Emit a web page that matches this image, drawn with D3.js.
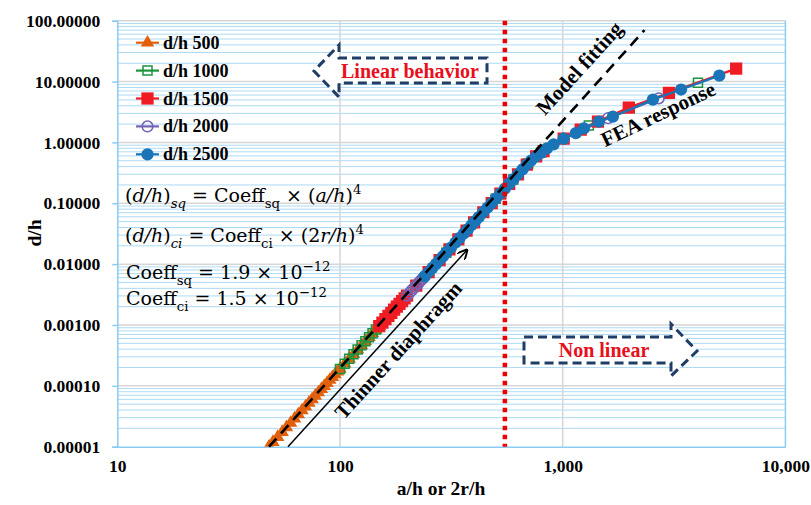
<!DOCTYPE html>
<html>
<head>
<meta charset="utf-8">
<script src="https://cdn.jsdelivr.net/npm/d3@7"></script>
<style>
  body { margin: 0; background: #fff; }
  text { font-family: "Liberation Serif", "Times New Roman", serif; }
</style>
</head>
<body>
<script>
// ---- data ----
const ahOrange = [48, 50, 52.5, 55, 57.5, 60, 62.5, 65, 67.5, 70, 72.5, 75, 77.5, 80, 82.5, 85, 87.5, 90, 92.5, 95, 97.5, 100, 105, 110, 115, 120, 125, 130, 135, 140, 145, 150];
const dhOrange = [1.01e-5, 1.19e-5, 1.44e-5, 1.74e-5, 2.08e-5, 2.46e-5, 2.90e-5, 3.39e-5, 3.94e-5, 4.56e-5, 5.25e-5, 6.01e-5, 6.85e-5, 7.78e-5, 8.80e-5, 9.92e-5, 1.11e-4, 1.25e-4, 1.39e-4, 1.55e-4, 1.72e-4, 1.90e-4, 2.31e-4, 2.78e-4, 3.32e-4, 3.94e-4, 4.64e-4, 5.43e-4, 6.31e-4, 7.30e-4, 8.40e-4, 9.62e-4];

const ahGreen = [100, 105, 110, 115, 120, 125, 130, 135, 140, 145, 150, 175, 200, 250, 300, 400, 500, 600, 700, 800, 1010, 1310, 2000, 4050];
const dhGreen = [1.90e-4, 2.31e-4, 2.78e-4, 3.32e-4, 3.94e-4, 4.64e-4, 5.43e-4, 6.31e-4, 7.30e-4, 8.40e-4, 9.62e-4, 1.78e-3, 3.04e-3, 7.42e-3, 1.54e-2, 4.86e-2, 0.119, 0.246, 0.45, 0.68, 1.15, 1.9, 3.7, 9.6];

const ahRed = [150, 155, 160, 165, 170, 175, 180, 185, 190, 195, 200, 220, 250, 280, 310, 340, 370, 400, 440, 480, 525, 575, 630, 690, 760, 820, 1010, 1205, 1440, 1980, 3000, 6010];
const dhRed = [9.62e-4, 1.097e-3, 1.245e-3, 1.408e-3, 1.587e-3, 1.782e-3, 1.995e-3, 2.226e-3, 2.476e-3, 2.747e-3, 3.04e-3, 4.45e-3, 7.42e-3, 1.168e-2, 1.755e-2, 2.54e-2, 3.56e-2, 4.86e-2, 7.12e-2, 0.1009, 0.1443, 0.2077, 0.2993, 0.4307, 0.59, 0.72, 1.15, 1.62, 2.2, 3.73, 6.5, 16.3];

const ahPurple = [200, 205, 210, 215, 220, 225, 230, 235, 240, 300, 400, 500, 600, 800, 1010, 1600, 2700];
const dhPurple = [3.04e-3, 3.36e-3, 3.70e-3, 4.06e-3, 4.45e-3, 4.87e-3, 5.32e-3, 5.79e-3, 6.30e-3, 1.54e-2, 4.86e-2, 0.119, 0.246, 0.68, 1.15, 2.5, 5.3];

const ahBlue = [240, 250, 260, 270, 280, 290, 300, 315, 330, 345, 360, 375, 390, 405, 420, 440, 460, 480, 500, 525, 550, 575, 600, 630, 660, 690, 720, 760, 800, 850, 910, 1010, 1145, 1245, 1453, 1680, 2540, 3400, 5050];
const dhBlue = [6.30e-3, 7.42e-3, 8.68e-3, 1.010e-2, 1.168e-2, 1.344e-2, 1.539e-2, 1.871e-2, 2.253e-2, 2.692e-2, 3.191e-2, 3.757e-2, 4.395e-2, 5.112e-2, 5.91e-2, 7.12e-2, 8.51e-2, 0.1009, 0.1188, 0.1443, 0.1739, 0.2077, 0.2462, 0.2993, 0.3605, 0.4307, 0.50, 0.59, 0.68, 0.80, 0.93, 1.15, 1.42, 1.7, 2.2, 2.65, 5.05, 7.4, 12.5];

const seriesNames = ["d/h 500", "d/h 1000", "d/h 1500", "d/h 2000", "d/h 2500"];

// model fitting line and "thinner diaphragm" arrow ends
const fitAh = [48, 2330];
const fitDh = [1.0e-5, 70];
const arrowAh = [58.4, 372];
const arrowDh = [1.0e-5, 0.0171];
const limitAh = 550;

const xTicks = [10, 100, 1000, 10000];
const xTickLabels = ["10", "100", "1,000", "10,000"];
const yTicks = [1e-5, 1e-4, 1e-3, 1e-2, 1e-1, 1, 10, 100];
const yTickLabels = ["0.00001", "0.00010", "0.00100", "0.01000", "0.10000", "1.00000", "10.00000", "100.00000"];

// ---- setup ----
const svgWidth = 811, svgHeight = 505;
const plot = { left: 117.3, right: 785.4, top: 20.7, bottom: 446.7 };

const svg = d3.select("body").append("svg")
  .attr("width", svgWidth)
  .attr("height", svgHeight);

const x = d3.scaleLog().domain([10, 10000]).range([plot.left, plot.right]);
const y = d3.scaleLog().domain([1e-5, 100]).range([plot.bottom, plot.top]);

svg.append("clipPath").attr("id", "clip")
  .append("rect")
  .attr("x", plot.left).attr("y", plot.top)
  .attr("width", plot.right - plot.left).attr("height", plot.bottom - plot.top);

// gridlines: minor light blue, major grey
const minorVals = [];
yTicks.slice(0, -1).forEach(d => { for (let k = 2; k <= 9; k++) minorVals.push(d * k); });

svg.append("g").selectAll("line")
  .data(minorVals)
  .enter().append("line")
  .attr("x1", plot.left).attr("x2", plot.right)
  .attr("y1", d => y(d)).attr("y2", d => y(d))
  .attr("stroke", "#addaf5").attr("stroke-width", 1);

svg.append("g").selectAll("line")
  .data(yTicks.slice(1))
  .enter().append("line")
  .attr("x1", plot.left).attr("x2", plot.right)
  .attr("y1", d => y(d)).attr("y2", d => y(d))
  .attr("stroke", "#d6d6d6").attr("stroke-width", 1.5);

svg.append("g").selectAll("line")
  .data([100, 1000])
  .enter().append("line")
  .attr("x1", d => x(d)).attr("x2", d => x(d))
  .attr("y1", plot.top).attr("y2", plot.bottom)
  .attr("stroke", "#d6d6d6").attr("stroke-width", 1.5);

// right border
svg.append("line")
  .attr("x1", plot.right).attr("x2", plot.right)
  .attr("y1", plot.top).attr("y2", plot.bottom)
  .attr("stroke", "#8ccbf2").attr("stroke-width", 1.5);

// axes
const yAxis = d3.axisLeft(y).tickValues(yTicks).tickFormat((d, i) => yTickLabels[i]).tickSize(5).tickPadding(12);
const gy = svg.append("g").attr("transform", `translate(${plot.left},0)`).call(yAxis);
gy.select(".domain").attr("stroke", "#8ccbf2").attr("stroke-width", 1.5);
gy.selectAll(".tick line").attr("stroke", "#8ccbf2").attr("stroke-width", 1.5);
gy.selectAll("text")
  .style("font-family", "Liberation Serif, serif")
  .style("font-weight", "bold").style("font-size", "17.5px").attr("fill", "#000");

const xAxis = d3.axisBottom(x).tickValues(xTicks).tickFormat((d, i) => xTickLabels[i]).tickSize(0);
const gx = svg.append("g").attr("transform", `translate(0,${plot.bottom})`).call(xAxis);
gx.select(".domain").attr("stroke", "#8ccbf2").attr("stroke-width", 1.5);
gx.selectAll("text")
  .attr("y", 25).attr("dy", 0)
  .style("font-family", "Liberation Serif, serif")
  .style("font-weight", "bold").style("font-size", "17.5px").attr("fill", "#000");

// axis titles
svg.append("text")
  .attr("x", 441).attr("y", 495)
  .attr("text-anchor", "middle")
  .style("font-weight", "bold").style("font-size", "19.5px")
  .text("a/h or 2r/h");

svg.append("text")
  .attr("transform", "translate(41,233) rotate(-90)")
  .attr("text-anchor", "middle")
  .style("font-weight", "bold").style("font-size", "19.5px")
  .text("d/h");

// ---- series ----
const series = [
  { ah: ahOrange, dh: dhOrange, color: "#e2600c", shape: d3.symbolTriangle, size: 78, open: false },
  { ah: ahGreen, dh: dhGreen, color: "#1b9440", shape: d3.symbolSquare, size: 81, open: true },
  { ah: ahRed, dh: dhRed, color: "#f01c24", shape: d3.symbolSquare, size: 150, open: false },
  { ah: ahPurple, dh: dhPurple, color: "#7461b3", shape: d3.symbolCircle, size: 90, open: true },
  { ah: ahBlue, dh: dhBlue, color: "#1a74b8", shape: d3.symbolCircle, size: 118, open: false }
];

const line = d3.line().x(d => x(d[0])).y(d => y(d[1]));
const plotG = svg.append("g").attr("clip-path", "url(#clip)");

series.forEach(s => {
  const pts = s.ah.map((a, i) => [a, s.dh[i]]);
  plotG.append("path")
    .attr("d", line(pts))
    .attr("fill", "none")
    .attr("stroke", s.color)
    .attr("stroke-width", 2.2);
  plotG.selectAll(null)
    .data(pts)
    .enter().append("path")
    .attr("transform", d => `translate(${x(d[0])},${y(d[1])})`)
    .attr("d", d3.symbol().type(s.shape).size(s.size))
    .attr("fill", s.open ? "none" : s.color)
    .attr("stroke", s.open ? s.color : "none")
    .attr("stroke-width", 1.5);
});

// model fitting dashed line
svg.append("line")
  .attr("x1", x(fitAh[0])).attr("y1", y(fitDh[0]))
  .attr("x2", x(fitAh[1])).attr("y2", y(fitDh[1]))
  .attr("stroke", "#000").attr("stroke-width", 2.6)
  .attr("stroke-dasharray", "11,7");

// limit of linear behaviour
svg.append("line")
  .attr("x1", x(limitAh)).attr("x2", x(limitAh))
  .attr("y1", plot.top).attr("y2", plot.bottom)
  .attr("stroke", "#ee0000").attr("stroke-width", 4.5)
  .attr("stroke-dasharray", "4.5,4.5");

// thinner diaphragm arrow
svg.append("defs").append("marker")
  .attr("id", "head").attr("viewBox", "0 0 10 10")
  .attr("refX", 9).attr("refY", 5)
  .attr("markerWidth", 7).attr("markerHeight", 7)
  .attr("orient", "auto")
  .append("path").attr("d", "M0,0 L10,5 L0,10").attr("fill", "none").attr("stroke", "#000").attr("stroke-width", 1.8);

svg.append("line")
  .attr("x1", x(arrowAh[0])).attr("y1", y(arrowDh[0]))
  .attr("x2", x(arrowAh[1])).attr("y2", y(arrowDh[1]))
  .attr("stroke", "#000").attr("stroke-width", 1.5)
  .attr("marker-end", "url(#head)");

// ---- annotations ----
const navy = "#1f3d66";
svg.append("polygon")
  .attr("points", "487,58 339,58 339,45 314,71 339,97 339,83 487,83")
  .attr("fill", "#fff").attr("stroke", navy).attr("stroke-width", 3)
  .attr("stroke-dasharray", "9,5");
svg.append("text")
  .attr("x", 410).attr("y", 78)
  .attr("text-anchor", "middle")
  .attr("fill", "#e8101c")
  .style("font-weight", "bold").style("font-size", "20px")
  .text("Linear behavior");

svg.append("polygon")
  .attr("points", "524,337 671,337 671,324 697,351 671,376 671,363 524,363")
  .attr("fill", "#fff").attr("stroke", navy).attr("stroke-width", 3)
  .attr("stroke-dasharray", "9,5");
svg.append("text")
  .attr("x", 604).attr("y", 357)
  .attr("text-anchor", "middle")
  .attr("fill", "#e8101c")
  .style("font-weight", "bold").style("font-size", "20px")
  .text("Non linear");

function rotatedLabel(cx, cy, angle, str) {
  svg.append("text")
    .attr("transform", `translate(${cx},${cy}) rotate(${angle})`)
    .attr("text-anchor", "middle")
    .attr("dy", "0.35em")
    .style("font-weight", "bold").style("font-size", "21px")
    .text(str);
}
rotatedLabel(579, 68, -47.7, "Model fitting");
rotatedLabel(658, 114, -25.5, "FEA response");
rotatedLabel(398, 350, -47.7, "Thinner diaphragm");

// equations
function mathText(x0, y0, parts) {
  const fs = 19;
  const t = svg.append("text").attr("x", x0).attr("y", y0)
    .style("font-family", "DejaVu Serif, serif")
    .style("font-size", fs + "px");
  let cur = 0;
  parts.forEach(p => {
    const target = p.sub ? fs * 0.3 : p.sup ? -fs * 0.42 : 0;
    const ts = t.append("tspan").text(p.t).attr("dy", target - cur);
    cur = target;
    if (p.i) ts.style("font-style", "italic");
    if (p.sub || p.sup) ts.style("font-size", (fs * 0.7) + "px");
  });
}
mathText(125, 202, [
  { t: "(" }, { t: "d/h", i: true }, { t: ")" }, { t: "sq", i: true, sub: true },
  { t: " = Coeff" }, { t: "sq", sub: true }, { t: " × (" }, { t: "a/h", i: true }, { t: ")" }, { t: "4", sup: true }
]);
mathText(125, 242, [
  { t: "(" }, { t: "d/h", i: true }, { t: ")" }, { t: "ci", i: true, sub: true },
  { t: " = Coeff" }, { t: "ci", sub: true }, { t: " × (2" }, { t: "r/h", i: true }, { t: ")" }, { t: "4", sup: true }
]);
mathText(126, 279, [
  { t: "Coeff" }, { t: "sq", sub: true }, { t: " = 1.9  × 10" }, { t: "−12", sup: true }
]);
mathText(126, 305, [
  { t: "Coeff" }, { t: "ci", sub: true }, { t: " = 1.5  × 10" }, { t: "−12", sup: true }
]);

// ---- legend ----
const legend = svg.append("g").attr("class", "legend");
series.forEach((s, i) => {
  const ly = 42.7 + i * 27.9;
  legend.append("line")
    .attr("x1", 136).attr("x2", 159).attr("y1", ly).attr("y2", ly)
    .attr("stroke", s.color).attr("stroke-width", 2.2);
  legend.append("path")
    .attr("transform", `translate(147.5,${ly})`)
    .attr("d", d3.symbol().type(s.shape).size(s.size))
    .attr("fill", s.open ? "none" : s.color)
    .attr("stroke", s.open ? s.color : "none")
    .attr("stroke-width", 1.5);
  legend.append("text")
    .attr("x", 163).attr("y", ly + 6)
    .style("font-weight", "bold").style("font-size", "18px")
    .text(seriesNames[i]);
});
</script>
</body>
</html>
